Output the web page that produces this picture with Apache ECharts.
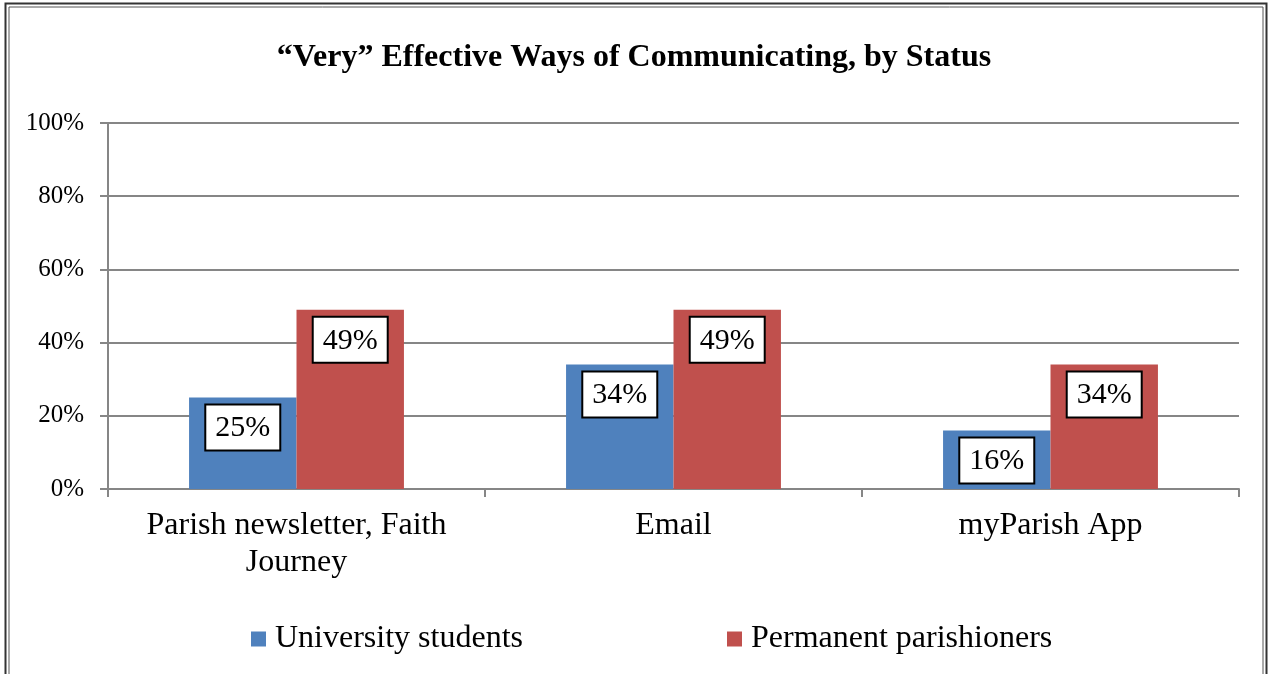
<!DOCTYPE html>
<html>
<head>
<meta charset="utf-8">
<script src="https://cdn.jsdelivr.net/npm/echarts@6/dist/echarts.min.js"></script>
<style>
  html, body { margin: 0; padding: 0; background: #fff; }
  #chart { width: 1268px; height: 674px; }
</style>
</head>
<body>
<div id="chart"></div>
<script>
// Survey results: share rating each channel "very" effective
const categories = ['Parish newsletter, Faith\nJourney', 'Email', 'myParish App'];
const universityStudents = [25, 34, 16];
const permanentParishioners = [49, 49, 34];
const seriesNames = ['University students', 'Permanent parishioners'];
const titleText = '\u201cVery\u201d Effective Ways of Communicating, by Status';

const serif = '"Liberation Serif", "Times New Roman", serif';
const axisGray = '#868686';

const labelStyle = {
  show: true,
  position: 'insideTop',
  distance: 8,
  formatter: '{c}%',
  fontFamily: serif,
  fontSize: 30,
  color: '#000',
  backgroundColor: '#fff',
  borderColor: '#000',
  borderWidth: 2,
  padding: [8, 9, 6, 9]
};

const chart = echarts.init(document.getElementById('chart'), null, { renderer: 'canvas' });
chart.setOption({
  animation: false,
  backgroundColor: '#fff',
  title: {
    text: titleText,
    left: 'center',
    top: 37,
    textStyle: { fontFamily: serif, fontSize: 32, fontWeight: 'bold', color: '#000' }
  },
  graphic: [
    { type: 'rect', shape: { x: 5.5, y: 3.5, width: 1261, height: 720 }, style: { fill: null, stroke: '#333', lineWidth: 2 } },
    { type: 'rect', shape: { x: 9, y: 7, width: 1254, height: 720 }, style: { fill: null, stroke: '#555', lineWidth: 1 } }
  ],
  grid: { left: 108, right: 29, top: 123, bottom: 185, containLabel: false },
  legend: {
    data: seriesNames,
    left: 246,
    top: 618,
    itemWidth: 15,
    itemHeight: 15,
    itemGap: 204,
    icon: 'rect',
    textStyle: { fontFamily: serif, fontSize: 32, color: '#000', padding: [0, 0, 0, 4] }
  },
  xAxis: {
    type: 'category',
    data: categories,
    boundaryGap: true,
    axisLine: { show: true, lineStyle: { color: axisGray, width: 2 } },
    axisTick: { show: true, interval: 0, length: 8, lineStyle: { color: axisGray, width: 2 } },
    axisLabel: { interval: 0, hideOverlap: false, fontFamily: serif, fontSize: 32, color: '#000', margin: 18, lineHeight: 37 }
  },
  yAxis: {
    type: 'value',
    min: 0,
    max: 100,
    interval: 20,
    axisLine: { show: true, lineStyle: { color: axisGray, width: 2 } },
    axisTick: { show: true, length: 8, lineStyle: { color: axisGray, width: 2 } },
    axisLabel: { formatter: '{value}%', fontFamily: serif, fontSize: 25, color: '#000', margin: 24 },
    splitLine: { show: true, lineStyle: { color: axisGray, width: 2 } }
  },
  series: [
    {
      name: seriesNames[0],
      type: 'bar',
      data: universityStudents,
      itemStyle: { color: '#4F81BD' },
      barGap: '0%',
      barCategoryGap: '43%',
      label: labelStyle
    },
    {
      name: seriesNames[1],
      type: 'bar',
      data: permanentParishioners,
      itemStyle: { color: '#C0504D' },
      barGap: '0%',
      barCategoryGap: '43%',
      label: labelStyle
    }
  ]
});
</script>
</body>
</html>
